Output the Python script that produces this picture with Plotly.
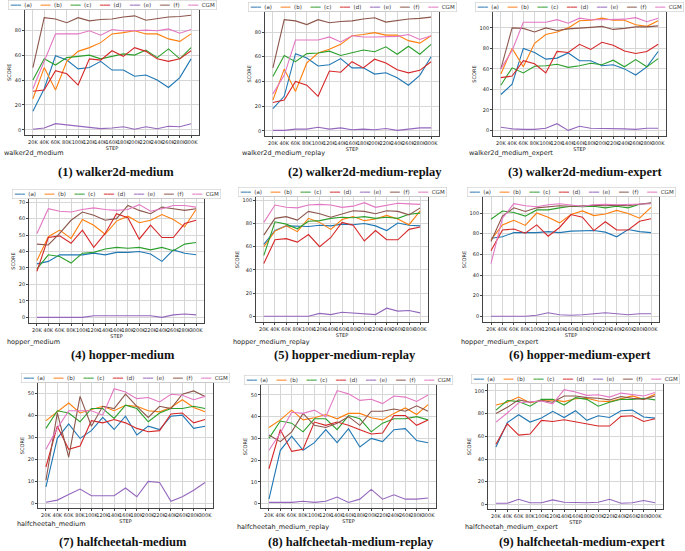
import plotly.graph_objects as go

steps = ["20K", "40K", "60K", "80K", "100K", "120K", "140K", "160K",
         "180K", "200K", "220K", "240K", "260K", "280K", "300K"]
series_names = ["(a)", "(b)", "(c)", "(d)", "(e)", "(f)", "CGM"]

# ---- scores per dataset: rows = (a),(b),(c),(d),(e),(f),CGM ----
walker2d_medium = [
    [15, 33, 59.5, 56, 49, 50, 55, 48, 48, 43, 44, 40, 34, 42, 57],
    [25, 50, 32, 55, 63, 66, 70, 77, 78, 79.5, 77, 77, 73, 71, 77],
    [40, 57, 52, 58, 59, 60, 57, 59, 61, 60, 64, 58, 65, 57, 66],
    [31, 32, 47.5, 45, 36, 57, 56, 63.5, 59, 66, 63, 57, 55, 57, 63.5],
    [0.5, 1.5, 5, 4, 3.5, 2.5, 1, 1.5, 2.5, 0.5, 2.5, 1, 3, 2.5, 5],
    [50, 90, 89, 86, 90, 87.5, 88.5, 89, 90.5, 91.5, 88, 89.5, 90.5, 91, 92],
    [33, 55, 77, 77, 77, 79.5, 76, 80.5, 79.5, 79.5, 80, 79.5, 81, 77.5, 80.5],
]
walker2d_medium_replay = [
    [18, 28, 62.5, 59, 52.5, 53.5, 58.5, 51, 51, 46, 47, 43, 37, 45, 60],
    [25, 50, 32, 55, 63, 66, 70, 77, 78, 79.5, 77.5, 77.5, 73, 71, 77],
    [44, 61, 56, 62.5, 63, 64.5, 61, 63, 65.5, 64, 68, 62, 68.5, 62, 70],
    [23, 25, 40, 37, 28, 48.5, 47.5, 56, 51, 58, 55, 49.5, 47, 49, 56],
    [0.5, 0.5, 1.5, 1.5, 3, 1.5, 2.5, 1, 1.5, 1, 2, 0.5, 1.5, 2.5, 2.5],
    [51, 90, 89, 86, 90, 87.5, 88.5, 89, 90.5, 91.5, 88, 89.5, 90.5, 91, 92],
    [30, 45, 73.5, 73.5, 73.5, 76, 72, 77, 76, 76, 76.5, 76.5, 78, 74, 77],
]
walker2d_medium_expert = [
    [35, 45, 80, 76, 69.5, 70.5, 75.5, 68, 68, 63, 64, 60, 54, 62, 77],
    [55, 80, 62, 85, 93.5, 96, 100, 107, 107.5, 109.5, 107.5, 107.5, 103, 101.5, 107],
    [44, 61, 56, 62.5, 63, 64.5, 61.5, 63, 65.5, 64, 68.5, 62, 69, 62, 70],
    [51.5, 53, 68, 65, 56, 77, 76, 84, 79, 86, 83, 77.5, 75, 77, 84],
    [3, 1.5, 1, 1, 2, 6.5, 0, 4, 2, 2, 2, 1.5, 1, 2, 2],
    [60, 100, 99.5, 96, 100, 97.5, 99, 99.5, 100.5, 101.5, 98.5, 99.5, 101, 101, 102],
    [60, 78, 105.5, 105.5, 105.5, 108, 104.5, 109.5, 108, 108, 108.5, 108.5, 110, 106, 109.5],
]
hopper_medium = [
    [32.5, 34, 38, 38, 38, 39, 38, 39.5, 39.5, 40, 38.5, 34, 41, 39, 38],
    [34.5, 49, 53, 48, 59.5, 56, 50.5, 58.5, 61.5, 57.5, 59, 62.5, 59.5, 55, 65.5],
    [29.5, 38, 37, 33, 39, 39.5, 41.5, 42.5, 42, 42.5, 41, 42.5, 40.5, 44.5, 45.5],
    [28, 48.5, 49.5, 45, 53, 42.5, 51, 63, 60.5, 47.5, 56, 48.5, 48.5, 57, 59],
    [0, 0, 0, 0, 0, 1, 1, 1, 1, 1, 1, 0, 1.5, 2, 1.5],
    [44.5, 44, 51, 59, 64, 62, 59, 60, 68, 65, 63, 67, 66, 65, 66],
    [51, 66, 64.5, 64, 65.5, 66.5, 65.5, 65, 65.5, 68.5, 64.5, 66, 68, 68, 67],
]
hopper_medium_replay = [
    [62, 74, 78, 77.5, 77.5, 78.5, 78, 79.5, 79, 80, 78, 74, 80.5, 78.5, 78],
    [60, 73.5, 78, 73, 84.5, 81, 75, 83.5, 86, 82.5, 84, 87, 84, 79, 91],
    [52.5, 81.5, 79.5, 75.5, 82, 82.5, 84.5, 85.5, 85, 86, 84.5, 85.5, 84.5, 88, 89],
    [45.5, 66, 67, 64, 70.5, 60, 68, 81, 78.5, 65, 74, 66, 66, 75, 77],
    [0, 0, 0, 0, 0, 2.5, 1.5, 3.5, 3, 2, 1.5, 7, 4.5, 5, 3],
    [70, 84.5, 86, 83, 90.5, 88.5, 85.5, 88.5, 91, 90.5, 88.5, 91, 90.5, 87.5, 93.5],
    [81, 96, 94, 93.5, 96, 96.5, 96, 94, 95, 98, 94, 95.5, 97.5, 97, 96.5],
]
hopper_medium_expert = [
    [75.5, 77, 81, 81, 81, 82, 81, 82.5, 82.5, 83, 81.5, 77, 84, 82, 81],
    [74, 88.5, 93, 88, 100, 96, 90.5, 98.5, 102, 97.5, 99, 102.5, 99.5, 95, 105.5],
    [94, 102, 100.5, 97, 103, 103, 105, 106.5, 106, 106.5, 105, 106.5, 105, 108.5, 109.5],
    [63.5, 83.5, 84.5, 80.5, 88.5, 77.5, 86, 98.5, 96, 83, 91.5, 83.5, 83.5, 92, 94.5],
    [0, 0, 0, 0, 1, 3.5, 1.5, 1, 1.5, 2.5, 3.5, 2.5, 1.5, 2.5, 2.5],
    [72.5, 97, 105, 101.5, 105, 106, 107, 106.5, 107, 107.5, 107, 107.5, 107, 108.5, 110],
    [51, 95, 109, 107, 106, 108, 109, 107.5, 106.5, 108, 108.5, 108, 108.5, 108.5, 109],
]
halfcheetah_medium = [
    [7.5, 29.5, 36, 29.5, 33, 39, 33.5, 39.5, 31, 35, 33.5, 39.5, 40, 34, 35],
    [37.5, 41.5, 45.5, 41, 42.5, 44, 42, 44.5, 44, 42, 41.5, 43.5, 47, 43.5, 41.5],
    [34, 42, 41, 37, 43, 43, 38.5, 44.5, 43, 37, 41, 43, 43, 44, 43],
    [16.5, 35, 24.5, 26, 37.5, 36.5, 38, 36.5, 34, 32.5, 33, 40.5, 41, 36.5, 38],
    [0.5, 1.5, 4, 6.5, 3.5, 3.5, 3.5, 7, 3, 10, 9.5, 1, 3, 6, 9.5],
    [10.5, 41, 21, 48.5, 35, 44, 43, 49.5, 44, 39, 44, 43, 49.5, 51, 48.5],
    [24.5, 34, 42, 42, 42, 40, 52, 50.5, 47.5, 48, 46, 49.5, 49, 47, 48.5],
]
halfcheetah_medium_replay = [
    [2, 24.5, 31, 24.5, 28, 34, 28, 34.5, 26, 30, 28.5, 34, 34.5, 29, 28],
    [35, 38.5, 43, 38.5, 39.5, 41, 39, 41.5, 41.5, 39.5, 38.5, 41.5, 44, 41, 45.5],
    [30, 38, 37, 33, 39, 39, 34, 40.5, 39, 33, 37, 39, 39, 40, 38.5],
    [16, 34, 24, 25, 37.5, 36, 37.5, 36, 34, 32, 32.5, 40.5, 40.5, 36, 38.5],
    [0.5, 0.5, 0.5, 1, 0.5, 1, 3, 0.5, 2, 6.5, 2, 4, 2, 2, 2.5],
    [31.5, 28.5, 33, 41.5, 36, 35, 37, 40, 36, 42.5, 42.5, 43.5, 42.5, 45, 42.5],
    [24.5, 32.5, 42, 41.5, 43, 40, 52, 50.5, 47.5, 48, 46, 49.5, 49, 47, 50],
]
halfcheetah_medium_expert = [
    [50.5, 72, 79, 72.5, 76, 82, 76.5, 82.5, 74, 78, 76.5, 82.5, 83, 77, 76],
    [87.5, 90, 94.5, 89.5, 91.5, 92, 90.5, 93, 93.5, 91, 90.5, 93, 95.5, 92.5, 97],
    [83, 91.5, 90.5, 86.5, 92.5, 92.5, 87.5, 94, 92.5, 86.5, 90, 92.5, 92.5, 93.5, 92],
    [53, 71, 61, 62, 74, 73, 74.5, 72.5, 70.5, 69, 69, 77.5, 78, 73, 75.5],
    [1, 1, 4.5, 1.5, 1.5, 4, 2, 1.5, 1.5, 2, 4.5, 1, 1.5, 3.5, 1.5],
    [80, 85.5, 92, 90, 91.5, 90, 95.5, 95.5, 94, 93.5, 92, 95, 93.5, 92.5, 95.5],
    [72.5, 80.5, 89.5, 90, 91, 88.5, 101, 99, 96, 96.5, 94.5, 98, 97, 95.5, 98.5],
]

dataset_labels = ["walker2d_medium", "walker2d_medium_replay", "walker2d_medium_expert",
                  "hopper_medium", "hopper_medium_replay", "hopper_medium_expert",
                  "halfcheetah_medium", "halfcheetah_medium_replay", "halfcheetah_medium_expert"]
captions = ["(1) walker2d-medium", "(2) walker2d-medium-replay", "(3) walker2d-medium-expert",
            "(4) hopper-medium", "(5) hopper-medium-replay", "(6) hopper-medium-expert",
            "(7) halfcheetah-medium", "(8) halfcheetah-medium-replay", "(9) halfcheetah-medium-expert"]
panel_data = [walker2d_medium, walker2d_medium_replay, walker2d_medium_expert,
              hopper_medium, hopper_medium_replay, hopper_medium_expert,
              halfcheetah_medium, halfcheetah_medium_replay, halfcheetah_medium_expert]

# ---- styling / layout (pixels in a 685x551 canvas) ----
W, H = 685, 551
colors = ["#1f77b4", "#ff7f0e", "#2ca02c", "#d62728", "#9467bd", "#8c564b", "#e377c2"]
plot_boxes = [  # left, right, top, bottom
    (25, 199, 9.5, 135), (265, 439, 11.5, 136), (493, 666, 12, 136),
    (29, 204, 199, 323), (256, 428, 197, 322), (483, 659, 197, 322),
    (38, 213, 383, 508), (261, 436, 385, 508), (488, 663, 384, 509),
]
ydticks = [20, 20, 20, 10, 20, 20, 10, 10, 20]
label_pos = [(2, 153), (240, 153), (467, 153), (5, 342), (231, 342), (459, 342),
             (15, 524), (235, 527), (463, 527)]
caption_pos = [(116, 172), (365, 172), (585, 172), (123, 355), (345, 355), (580, 355),
               (123, 542), (351, 542), (582, 542)]

TICKFONT = dict(family="DejaVu Sans", size=5, color="#222")
fig = go.Figure()
layout = dict(width=W, height=H, margin=dict(l=0, r=0, t=0, b=0),
              paper_bgcolor="white", plot_bgcolor="white", showlegend=False)
annotations = []

for i, data in enumerate(panel_data):
    k = "" if i == 0 else str(i + 1)
    xa, ya = "x" + k, "y" + k
    for j, name in enumerate(series_names):
        fig.add_trace(go.Scatter(x=steps, y=data[j], mode="lines", name=name,
                                 line=dict(color=colors[j], width=1.1),
                                 xaxis=xa, yaxis=ya, showlegend=False))
    l, r, t, b = plot_boxes[i]
    vals = [v for row in data for v in row]
    lo, hi = min(vals), max(vals)
    pad = 0.05 * (hi - lo)
    axis_common = dict(showline=True, mirror=True, linecolor="#444", linewidth=0.8,
                       showgrid=True, gridcolor="#d6d6d6", gridwidth=0.8,
                       ticks="outside", ticklen=2, tickwidth=0.6, tickcolor="#444",
                       tickfont=TICKFONT, zeroline=False)
    layout["xaxis" + k] = dict(domain=[l / W, r / W], anchor=ya, type="category",
                               range=[-0.7, len(steps) - 0.3], tickmode="array",
                               tickvals=steps, ticktext=steps, tickangle=0,
                               title=dict(text="STEP", font=TICKFONT, standoff=2),
                               **axis_common)
    layout["yaxis" + k] = dict(domain=[1 - b / H, 1 - t / H], anchor=xa,
                               range=[lo - pad, hi + pad], dtick=ydticks[i], tick0=0,
                               title=dict(text="SCORE", font=TICKFONT, standoff=2),
                               **axis_common)
    # legend box above each panel
    parts = []
    for j, name in enumerate(series_names):
        parts.append('<span style="color:%s">━━━</span>\u00a0\u00a0%s' % (colors[j], name))
    legend_text = ("\u00a0" * 5).join(parts)
    annotations.append(dict(text=legend_text, xref="paper", yref="paper",
                            x=(l + r) / 2 / W, y=1 - t / H, xanchor="center", yanchor="bottom",
                            showarrow=False, font=dict(family="DejaVu Sans", size=5.5, color="#333"),
                            bordercolor="#cccccc", borderwidth=0.6, borderpad=1.2,
                            bgcolor="white"))
    lx, ly = label_pos[i]
    annotations.append(dict(text=dataset_labels[i], xref="paper", yref="paper",
                            x=lx / W, y=1 - ly / H, xanchor="left", yanchor="middle",
                            showarrow=False, font=dict(family="DejaVu Sans", size=6.5, color="#222")))
    cx, cy = caption_pos[i]
    annotations.append(dict(text="<b>%s</b>" % captions[i], xref="paper", yref="paper",
                            x=cx / W, y=1 - cy / H, xanchor="center", yanchor="middle",
                            showarrow=False, font=dict(family="Liberation Serif", size=12.5, color="#111")))

layout["annotations"] = annotations
fig.update_layout(**layout)
fig.write_html("out.html", config={"displayModeBar": False},
               post_script="document.body.style.margin='0';document.body.style.overflow='hidden';")
